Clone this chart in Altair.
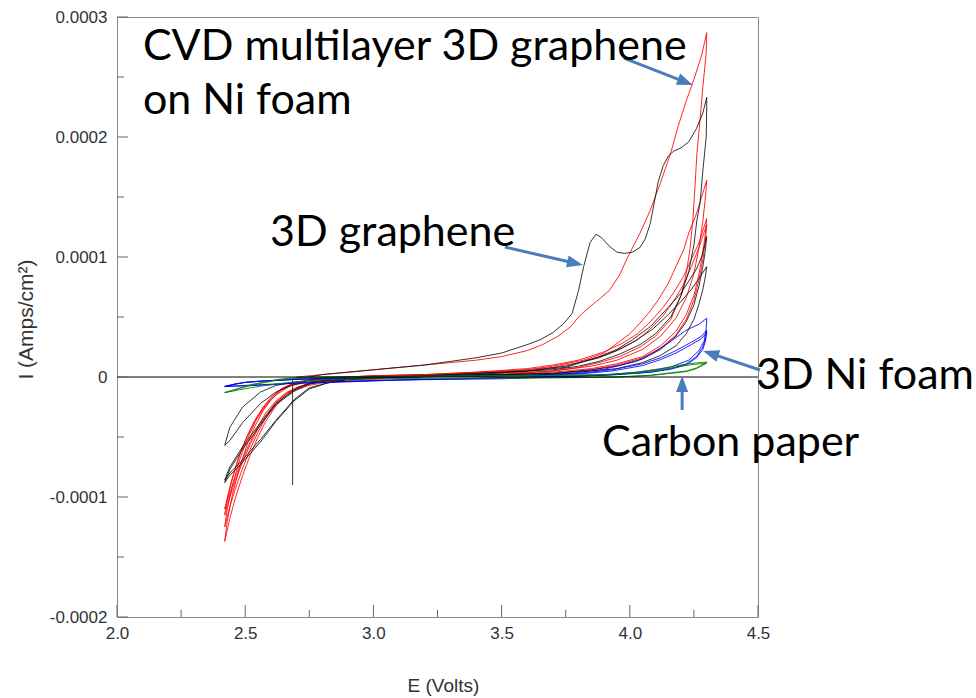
import math
import altair as alt
import pandas as pd

# ---------------- data (E in volts, I in units of 1e-4 A/cm^2) ----------------
# CVD multilayer 3D graphene on Ni foam (red)
red_c1_fwd_V = [2.70, 2.80, 2.90, 3.00, 3.10, 3.20, 3.30, 3.40, 3.50, 3.60, 3.66, 3.72, 3.77, 3.80, 3.83, 3.87, 3.92, 3.96, 3.99, 4.04, 4.08, 4.12, 4.16, 4.19, 4.22, 4.25, 4.28, 4.30]
red_c1_fwd_I = [0.00, 0.02, 0.04, 0.06, 0.08, 0.10, 0.12, 0.14, 0.17, 0.22, 0.27, 0.34, 0.42, 0.50, 0.56, 0.63, 0.72, 0.85, 0.99, 1.20, 1.39, 1.62, 1.87, 2.10, 2.30, 2.48, 2.68, 2.87]
red_c1_rev_V = [4.30, 4.298, 4.285, 4.274, 4.262, 4.254, 4.246, 4.235, 4.22, 4.20, 4.16, 4.10, 4.04, 3.96, 3.88, 3.80, 3.70, 3.60, 3.50, 3.40, 3.30, 3.20, 3.10, 3.00, 2.90, 2.80, 2.75, 2.70, 2.66, 2.62, 2.58, 2.55, 2.52, 2.49, 2.46, 2.44, 2.42]
red_c1_rev_I = [2.87, 2.70, 2.42, 2.14, 1.87, 1.58, 1.31, 1.07, 0.86, 0.68, 0.48, 0.34, 0.25, 0.17, 0.12, 0.08, 0.05, 0.04, 0.03, 0.02, 0.01, 0.00, -0.01, -0.02, -0.03, -0.05, -0.07, -0.10, -0.15, -0.24, -0.37, -0.50, -0.65, -0.82, -1.02, -1.18, -1.37]
red_c2_fwd_V = [2.42, 2.43, 2.45, 2.48, 2.51, 2.54, 2.57, 2.60, 2.64, 2.68, 2.74, 2.80, 2.90, 3.00, 3.20, 3.40, 3.60, 3.70, 3.82, 3.90, 3.95, 4.00, 4.04, 4.08, 4.11, 4.15, 4.18, 4.21, 4.23, 4.26, 4.28, 4.30]
red_c2_fwd_I = [-1.37, -1.20, -0.98, -0.74, -0.55, -0.40, -0.28, -0.19, -0.11, -0.06, -0.03, -0.01, 0.00, 0.01, 0.02, 0.04, 0.06, 0.09, 0.14, 0.20, 0.28, 0.36, 0.45, 0.55, 0.64, 0.78, 0.92, 1.06, 1.20, 1.36, 1.50, 1.64]
red_rev_V = [4.30, 4.295, 4.285, 4.27, 4.25, 4.22, 4.18, 4.12, 4.05, 3.95, 3.85, 3.70, 3.50, 3.30, 3.10, 3.00, 2.90, 2.80, 2.74, 2.70, 2.66, 2.62, 2.58, 2.55, 2.52, 2.49, 2.46, 2.44, 2.42]
red_c2_rev_I = [1.64, 1.50, 1.30, 1.08, 0.86, 0.66, 0.49, 0.34, 0.23, 0.14, 0.09, 0.05, 0.02, 0.01, 0.00, -0.01, -0.02, -0.04, -0.06, -0.09, -0.14, -0.22, -0.34, -0.46, -0.60, -0.76, -0.94, -1.08, -1.25]
red_fwd_V = [2.42, 2.43, 2.45, 2.48, 2.51, 2.54, 2.57, 2.60, 2.64, 2.68, 2.74, 2.80, 2.90, 3.00, 3.20, 3.40, 3.60, 3.70, 3.80, 3.90, 3.97, 4.03, 4.08, 4.13, 4.17, 4.21, 4.24, 4.27, 4.30]
red_c3_fwd_I = [-1.25, -1.10, -0.90, -0.68, -0.51, -0.37, -0.26, -0.18, -0.10, -0.06, -0.03, -0.01, 0.00, 0.01, 0.02, 0.04, 0.07, 0.10, 0.14, 0.21, 0.28, 0.36, 0.46, 0.58, 0.70, 0.84, 0.98, 1.12, 1.32]
red_c3_rev_I = [1.32, 1.20, 1.04, 0.86, 0.68, 0.52, 0.38, 0.26, 0.17, 0.11, 0.07, 0.04, 0.02, 0.01, 0.00, -0.01, -0.02, -0.04, -0.06, -0.09, -0.14, -0.21, -0.32, -0.43, -0.56, -0.71, -0.87, -1.00, -1.15]
red_c4_fwd_I = [-1.15, -1.02, -0.84, -0.64, -0.48, -0.35, -0.25, -0.17, -0.10, -0.06, -0.03, -0.01, 0.00, 0.01, 0.02, 0.03, 0.06, 0.08, 0.12, 0.18, 0.24, 0.31, 0.40, 0.51, 0.63, 0.77, 0.92, 1.08, 1.27]
red_c4_rev_I = [1.27, 1.14, 0.98, 0.81, 0.64, 0.48, 0.35, 0.24, 0.16, 0.10, 0.06, 0.03, 0.02, 0.01, 0.00, -0.01, -0.02, -0.04, -0.06, -0.09, -0.13, -0.20, -0.30, -0.41, -0.54, -0.68, -0.84, -0.97, -1.10]
red_c5_fwd_V = [2.42, 2.44, 2.47, 2.50, 2.54, 2.58, 2.62, 2.67, 2.74, 2.82, 2.90]
red_c5_fwd_I = [-1.10, -0.92, -0.70, -0.53, -0.36, -0.24, -0.15, -0.08, -0.03, -0.01, 0.00]

# 3D graphene (black)
blk_spike_V = [2.685, 2.685]
blk_spike_I = [-0.02, -0.90]
blk_c1_fwd_V = [2.69, 2.75, 2.80, 2.90, 3.00, 3.10, 3.20, 3.30, 3.40, 3.50, 3.60, 3.65, 3.70, 3.74, 3.775, 3.80, 3.82, 3.845, 3.868, 3.89, 3.92, 3.95, 3.98, 4.01, 4.04, 4.06, 4.08, 4.095, 4.11, 4.13, 4.15, 4.17, 4.20, 4.23, 4.26, 4.285, 4.30]
blk_c1_fwd_I = [-0.02, 0.00, 0.02, 0.04, 0.06, 0.08, 0.10, 0.13, 0.16, 0.20, 0.27, 0.31, 0.37, 0.44, 0.53, 0.72, 0.92, 1.12, 1.19, 1.16, 1.09, 1.04, 1.03, 1.04, 1.08, 1.15, 1.28, 1.45, 1.62, 1.76, 1.84, 1.88, 1.91, 1.96, 2.07, 2.20, 2.33]
blk_c1_rev_V = [4.30, 4.30, 4.298, 4.285, 4.274, 4.262, 4.25, 4.23, 4.20, 4.16, 4.10, 4.04, 3.96, 3.88, 3.80, 3.70, 3.60, 3.50, 3.40, 3.30, 3.20, 3.10, 3.00, 2.90, 2.80, 2.75, 2.68, 2.62, 2.56, 2.49, 2.44, 2.42]
blk_c1_rev_I = [2.33, 2.25, 2.00, 1.72, 1.45, 1.31, 1.10, 0.88, 0.68, 0.50, 0.36, 0.27, 0.19, 0.13, 0.09, 0.06, 0.05, 0.04, 0.03, 0.02, 0.01, 0.00, -0.01, -0.02, -0.03, -0.04, -0.07, -0.125, -0.22, -0.38, -0.53, -0.57]
blk_c2_fwd_V = [2.42, 2.44, 2.49, 2.56, 2.62, 2.70, 2.80, 2.90, 3.00, 3.20, 3.40, 3.60, 3.75, 3.88, 3.95, 4.01, 4.08, 4.15, 4.20, 4.23, 4.26, 4.28, 4.30]
blk_c2_fwd_I = [-0.57, -0.42, -0.25, -0.125, -0.07, -0.04, -0.02, -0.01, 0.00, 0.01, 0.03, 0.05, 0.08, 0.17, 0.23, 0.31, 0.42, 0.58, 0.70, 0.80, 0.90, 1.00, 1.17]
blk_rev_V = [4.30, 4.295, 4.285, 4.27, 4.25, 4.22, 4.18, 4.12, 4.05, 3.95, 3.85, 3.70, 3.50, 3.30, 3.10, 3.00, 2.90, 2.82, 2.75, 2.69, 2.62, 2.56, 2.49, 2.44, 2.42]
blk_c2_rev_I = [1.17, 1.06, 0.92, 0.76, 0.60, 0.46, 0.34, 0.23, 0.15, 0.09, 0.06, 0.03, 0.02, 0.01, 0.00, -0.01, -0.02, -0.05, -0.09, -0.19, -0.36, -0.52, -0.69, -0.80, -0.86]
blk_c3_fwd_V = [2.42, 2.44, 2.49, 2.56, 2.62, 2.69, 2.75, 2.82, 2.90, 3.00, 3.20, 3.40, 3.60, 3.75, 3.88, 3.95, 4.02, 4.09, 4.15, 4.20, 4.24, 4.27, 4.30]
blk_c3_fwd_I = [-0.86, -0.75, -0.58, -0.38, -0.22, -0.11, -0.05, -0.02, -0.01, 0.00, 0.01, 0.02, 0.05, 0.09, 0.16, 0.22, 0.30, 0.40, 0.52, 0.63, 0.73, 0.82, 0.92]
blk_c3_rev_I = [0.92, 0.84, 0.73, 0.61, 0.48, 0.36, 0.26, 0.18, 0.12, 0.07, 0.05, 0.03, 0.02, 0.01, 0.00, -0.01, -0.02, -0.05, -0.10, -0.20, -0.37, -0.54, -0.71, -0.82, -0.88]
blk_c4_fwd_V = [2.42, 2.44, 2.49, 2.56, 2.62, 2.69, 2.75, 2.82, 2.90]
blk_c4_fwd_I = [-0.88, -0.77, -0.60, -0.40, -0.23, -0.12, -0.06, -0.03, -0.01]

# 3D Ni foam (blue)
blu_c1_fwd_V = [2.42, 2.46, 2.50, 2.56, 2.62, 2.70, 2.80, 3.00, 3.20, 3.40, 3.60, 3.77, 3.90, 4.025, 4.09, 4.155, 4.22, 4.27, 4.30]
blu_c1_fwd_I = [-0.08, -0.06, -0.045, -0.035, -0.028, -0.02, -0.012, 0.0, 0.004, 0.008, 0.015, 0.03, 0.065, 0.13, 0.20, 0.29, 0.39, 0.44, 0.49]
blu_c1_rev_V = [4.30, 4.298, 4.29, 4.27, 4.23, 4.155, 4.10, 4.025, 3.90, 3.70, 3.50, 3.30, 3.10, 2.91, 2.71, 2.59, 2.50, 2.42]
blu_c1_rev_I = [0.49, 0.40, 0.30, 0.22, 0.14, 0.08, 0.06, 0.04, 0.015, 0.0, -0.015, -0.02, -0.025, -0.04, -0.05, -0.066, -0.074, -0.08]
blu_fwd_V = [2.42, 2.46, 2.50, 2.56, 2.62, 2.70, 2.80, 3.00, 3.20, 3.40, 3.60, 3.80, 3.93, 4.05, 4.12, 4.18, 4.24, 4.28, 4.30]
blu_c2_fwd_I = [-0.08, -0.06, -0.045, -0.035, -0.028, -0.02, -0.012, 0.0, 0.003, 0.006, 0.014, 0.03, 0.06, 0.11, 0.16, 0.22, 0.29, 0.34, 0.39]
blu_rev_V = [4.30, 4.295, 4.285, 4.26, 4.22, 4.16, 4.08, 3.95, 3.80, 3.60, 3.40, 3.20, 3.00, 2.80, 2.65, 2.55, 2.48, 2.42]
blu_c2_rev_I = [0.39, 0.32, 0.25, 0.17, 0.11, 0.07, 0.04, 0.02, 0.008, 0.0, -0.012, -0.02, -0.03, -0.045, -0.055, -0.065, -0.072, -0.078]
blu_c3_fwd_I = [-0.078, -0.058, -0.044, -0.034, -0.027, -0.019, -0.011, 0.0, 0.003, 0.006, 0.012, 0.025, 0.05, 0.095, 0.145, 0.20, 0.27, 0.32, 0.37]
blu_c3_rev_V = [4.30, 4.295, 4.285, 4.26, 4.22, 4.16, 4.08, 3.95, 3.80, 3.60, 3.40, 3.20, 3.00, 2.85]
blu_c3_rev_I = [0.37, 0.30, 0.23, 0.16, 0.10, 0.065, 0.04, 0.02, 0.007, 0.0, -0.012, -0.02, -0.03, -0.04]

# Carbon paper (green)
grn_fwd_V = [2.42, 2.45, 2.48, 2.53, 2.58, 2.63, 2.67, 2.75, 2.90, 3.10, 3.30, 3.50, 3.70, 3.90, 4.03, 4.12, 4.20, 4.25, 4.30]
grn_c1_fwd_I = [-0.13, -0.11, -0.09, -0.06, -0.04, -0.02, -0.01, 0.0, 0.003, 0.006, 0.008, 0.01, 0.014, 0.02, 0.04, 0.07, 0.10, 0.115, 0.125]
grn_c1_rev_V = [4.30, 4.26, 4.22, 4.16, 4.08, 3.95, 3.80, 3.60, 3.40, 3.20, 3.00, 2.85, 2.75, 2.65, 2.58, 2.52, 2.47, 2.42]
grn_c1_rev_I = [0.125, 0.075, 0.05, 0.035, 0.015, 0.0, -0.005, -0.008, -0.01, -0.012, -0.015, -0.02, -0.03, -0.05, -0.07, -0.09, -0.11, -0.13]
grn_c2_fwd_I = [-0.13, -0.115, -0.095, -0.065, -0.045, -0.025, -0.015, -0.005, 0.0, 0.004, 0.006, 0.008, 0.012, 0.018, 0.035, 0.06, 0.09, 0.105, 0.115]
grn_c2_rev_V = [4.30, 4.26, 4.22, 4.16, 4.08, 3.95, 3.80, 3.60, 3.50]
grn_c2_rev_I = [0.115, 0.07, 0.045, 0.03, 0.012, 0.0, -0.004, -0.007, -0.008]

# axis ticks
x_major = [2.0, 2.5, 3.0, 3.5, 4.0, 4.5]
x_minor = [2.25, 2.75, 3.25, 3.75, 4.25]
y_major = [-0.0002, -0.0001, 0.0, 0.0001, 0.0002, 0.0003]
y_minor = [-0.00015, -0.00005, 0.00005, 0.00015, 0.00025]

# annotations (E, I in 1e-4 A/cm^2)
label_text = ["CVD multilayer 3D graphene", "on Ni foam", "3D graphene", "3D Ni foam", "Carbon paper"]
label_V = [2.101, 2.101, 2.597, 4.492, 3.892]
label_I = [2.64, 2.19, 1.09, -0.10, -0.66]
arrow_start_V = [3.977, 3.513, 4.508, 4.204]
arrow_start_I = [2.658, 1.083, 0.058, -0.275]
arrow_tip_V = [4.246, 3.817, 4.286, 4.204]
arrow_tip_I = [2.433, 0.933, 0.217, 0.008]

SCALE = 1e-4  # current unit of the lists above

segments = [
    ("red", red_c1_fwd_V, red_c1_fwd_I), ("red", red_c1_rev_V, red_c1_rev_I),
    ("red", red_c2_fwd_V, red_c2_fwd_I), ("red", red_rev_V, red_c2_rev_I),
    ("red", red_fwd_V, red_c3_fwd_I), ("red", red_rev_V, red_c3_rev_I),
    ("red", red_fwd_V, red_c4_fwd_I), ("red", red_rev_V, red_c4_rev_I),
    ("red", red_c5_fwd_V, red_c5_fwd_I),
    ("black", blk_spike_V, blk_spike_I),
    ("black", blk_c1_fwd_V, blk_c1_fwd_I), ("black", blk_c1_rev_V, blk_c1_rev_I),
    ("black", blk_c2_fwd_V, blk_c2_fwd_I), ("black", blk_rev_V, blk_c2_rev_I),
    ("black", blk_c3_fwd_V, blk_c3_fwd_I), ("black", blk_rev_V, blk_c3_rev_I),
    ("black", blk_c4_fwd_V, blk_c4_fwd_I),
    ("blue", blu_c1_fwd_V, blu_c1_fwd_I), ("blue", blu_c1_rev_V, blu_c1_rev_I),
    ("blue", blu_fwd_V, blu_c2_fwd_I), ("blue", blu_rev_V, blu_c2_rev_I),
    ("blue", blu_fwd_V, blu_c3_fwd_I), ("blue", blu_c3_rev_V, blu_c3_rev_I),
    ("green", grn_fwd_V, grn_c1_fwd_I), ("green", grn_c1_rev_V, grn_c1_rev_I),
    ("green", grn_fwd_V, grn_c2_fwd_I), ("green", grn_c2_rev_V, grn_c2_rev_I),
]

rows = []
for k, (col, vs, cs) in enumerate(segments):
    for j, (v, c) in enumerate(zip(vs, cs)):
        rows.append({"E": v, "I": c * SCALE, "series": col, "seg": f"s{k:02d}", "idx": j})
curves = pd.DataFrame(rows)

W, H = 641, 600
XD = [2.0, 4.5]
YD = [-0.0002, 0.0003]
px_v = W / (XD[1] - XD[0])
px_a = H / (YD[1] - YD[0])

xs = alt.Scale(domain=XD, nice=False, zero=False)
ys = alt.Scale(domain=YD, nice=False, zero=False)

# ---- arrows ----
arr_rows = []
for sv, si, tv, ti in zip(arrow_start_V, arrow_start_I, arrow_tip_V, arrow_tip_I):
    dx = (tv - sv) * px_v
    dy = -(ti - si) * SCALE * px_a
    L = math.hypot(dx, dy)
    ux, uy = dx / L, dy / L
    ang = math.degrees(math.atan2(dx, -dy)) % 360
    ev = tv - ux * 10 / px_v
    ei = ti * SCALE + uy * 10 / px_a
    arr_rows.append({"sv": sv, "si": si * SCALE, "ev": ev, "ei": ei,
                     "tv": tv, "ti": ti * SCALE, "ang": ang})
arrows = pd.DataFrame(arr_rows)

labels = pd.DataFrame({"text": label_text, "E": label_V, "I": [v * SCALE for v in label_I]})

y_label_expr = "datum.value == 0 ? '0' : (datum.value < 0 ? '-' : '') + format(abs(datum.value), '.4f')"

narrow = "Liberation Sans Narrow, Arial Narrow, Liberation Sans"
xaxis = alt.Axis(
    values=x_major, format=".1f", ticks=False, domain=False, grid=False,
    labelFont=narrow, labelFontSize=17,
    labelColor="#333333", labelPadding=8, labelFlush=False,
    title="E (Volts)", titleFont=narrow,
    titleFontSize=19, titleFontWeight="normal", titleColor="#333333",
    titleX=326, titleY=68, titleBaseline="middle", titleAlign="center")
yaxis = alt.Axis(
    values=y_major, labelExpr=y_label_expr, ticks=False, domain=False, grid=False,
    labelFont="Liberation Sans", labelFontSize=17, labelColor="#333333", labelPadding=10,
    labelFlush=False,
    title="I (Amps/cm²)", titleFont="Liberation Sans", titleFontSize=21,
    titleFontWeight="normal", titleColor="#333333", titleAngle=-90,
    titleX=-91, titleY=302, titleBaseline="middle", titleAlign="center")


def nx(field):
    return alt.X(field, scale=xs, axis=xaxis)


def ny(field):
    return alt.Y(field, scale=ys, axis=yaxis)


lines = alt.Chart(curves).mark_line(strokeWidth=1, opacity=0.85).encode(
    x=nx("E:Q"), y=ny("I:Q"),
    color=alt.Color("series:N", scale=alt.Scale(
        domain=["red", "black", "blue", "green"],
        range=["#ff0000", "#111111", "#0000ff", "#008000"]), legend=None),
    detail="seg:N",
    order="idx:Q",
)

zero = alt.Chart(pd.DataFrame({"I": [0.0]})).mark_rule(color="black", strokeWidth=1).encode(
    y=ny("I:Q"))

tick_col = "#666666"
ytick_major = alt.Chart(pd.DataFrame({"I": y_major})).mark_rule(color=tick_col).encode(
    y=ny("I:Q"), x=alt.value(0), x2=alt.value(11))
ytick_minor = alt.Chart(pd.DataFrame({"I": y_minor})).mark_rule(color=tick_col).encode(
    y=ny("I:Q"), x=alt.value(0), x2=alt.value(7))
xtick_major = alt.Chart(pd.DataFrame({"E": x_major})).mark_rule(color=tick_col).encode(
    x=nx("E:Q"), y=alt.value(H), y2=alt.value(H - 12))
xtick_minor = alt.Chart(pd.DataFrame({"E": x_minor})).mark_rule(color=tick_col).encode(
    x=nx("E:Q"), y=alt.value(H), y2=alt.value(H - 7))

text = alt.Chart(labels).mark_text(
    align="left", baseline="alphabetic", font="Lato", fontSize=43, color="black"
).encode(x=nx("E:Q"), y=ny("I:Q"), text="text:N")

arrow_col = "#4a7ebb"
shafts = alt.Chart(arrows).mark_rule(color=arrow_col, strokeWidth=3).encode(
    x=nx("sv:Q"), y=ny("si:Q"), x2="ev:Q", y2="ei:Q")
heads = alt.Chart(arrows).mark_point(
    shape="M0,0L-0.75,2L0.75,2Z", filled=True, color=arrow_col, opacity=1, size=256
).encode(x=nx("tv:Q"), y=ny("ti:Q"), angle=alt.Angle("ang:Q", scale=None))

chart = alt.layer(
    lines, zero, ytick_major, ytick_minor, xtick_major, xtick_minor, shafts, heads, text
).properties(
    width=W, height=H,
    autosize=alt.AutoSizeParams(type="none"),
    padding={"left": 117, "top": 17, "right": 218, "bottom": 81},
    background="white",
).configure_view(stroke="#8a8a8a", strokeWidth=1)

chart.save("out.html", embed_options={"renderer": "svg", "actions": False})
